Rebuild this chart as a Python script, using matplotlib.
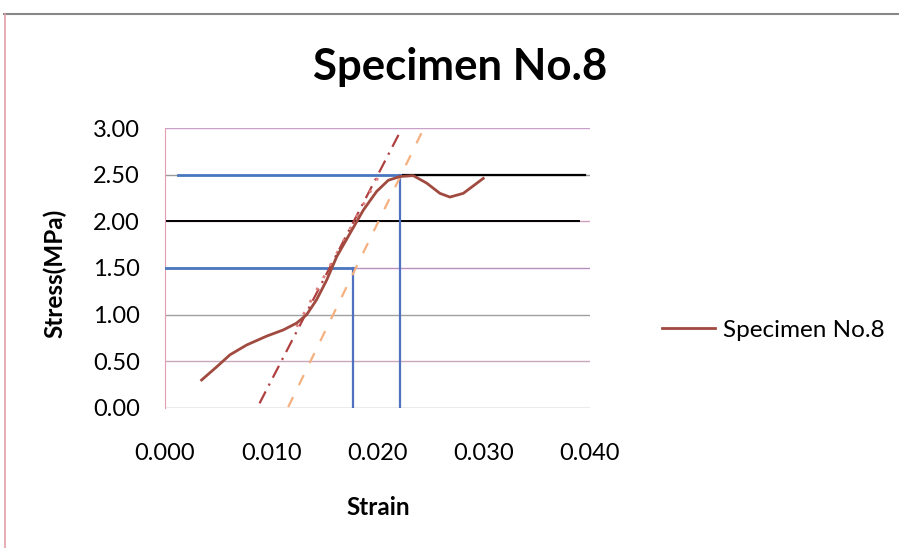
import matplotlib
matplotlib.use("Agg")
import matplotlib.pyplot as plt
from matplotlib.lines import Line2D

# stress-strain curve
strain = [0.00345, 0.00486, 0.00612, 0.00769, 0.00957, 0.01113, 0.0124, 0.01334,
          0.01427, 0.01522, 0.01616, 0.01741, 0.01867, 0.01992, 0.02102, 0.02212,
          0.02337, 0.02463, 0.02588, 0.02682, 0.02808, 0.02996]
stress = [0.30, 0.44, 0.57, 0.675, 0.77, 0.836, 0.91, 1.00,
          1.16, 1.37, 1.62, 1.87, 2.12, 2.32, 2.44, 2.48,
          2.49, 2.41, 2.30, 2.26, 2.30, 2.46]

# construction lines
peak_strain, peak_stress = 0.0221, 2.50
mid_strain, mid_stress = 0.0177, 1.50
tangent_x = [0.0089, 0.0220]
tangent_y = [0.05, 2.93]
offset_x = [0.0116, 0.0242]
offset_y = [0.01, 2.96]
secant_x = [0.0124, 0.0202]
secant_y = [0.87, 2.50]

x_ticks = [0.000, 0.010, 0.020, 0.030, 0.040]
y_ticks = [0.00, 0.50, 1.00, 1.50, 2.00, 2.50, 3.00]

plt.rcParams["font.family"] = ["Lato", "DejaVu Sans"]

fig = plt.figure(figsize=(8.99, 5.48), dpi=100)
ax = fig.add_axes([0.1835, 0.2555, 0.4727, 0.5109])

grid_colors = ["#9a9a9a", "#c8a8b8", "#a0a0a0", "#b890c0", "#d0a0c0", "#9a9a9a", "#c8a0c8"]
for y, c in zip(y_ticks, grid_colors):
    ax.axhline(y, color=c, lw=1.0, zorder=1)

# black reference lines
ax.plot([0.0, 0.0390], [2.0, 2.0], color="black", lw=1.4, zorder=2)
ax.plot([0.0224, 0.0395], [2.5, 2.5], color="black", lw=1.6, zorder=2)

# blue construction lines
blue = "#4a78c0"
ax.plot([0.0012, peak_strain], [peak_stress, peak_stress], color=blue, lw=2.0, zorder=3)
ax.plot([peak_strain, peak_strain], [0, peak_stress], color="#5070c0", lw=1.6, zorder=3)
ax.plot([0.0, mid_strain], [mid_stress, mid_stress], color=blue, lw=2.0, zorder=3)
ax.plot([mid_strain, mid_strain], [0, mid_stress], color="#5070c0", lw=1.6, zorder=3)

ax.plot(tangent_x, tangent_y, color="#b04040", lw=1.6, ls=(0, (6, 3, 1, 3)), zorder=4)
ax.plot(offset_x, offset_y, color="#f5b080", lw=1.6, ls=(0, (5, 6)), zorder=4)
ax.plot(secant_x, secant_y, color="#e08080", lw=2.0, ls=(0, (1, 4)), zorder=4)

ax.plot(strain, stress, color="#a04a40", lw=2.0, zorder=5, solid_joinstyle="round")

ax.set_xlim(0, 0.040)
ax.set_ylim(0, 3.0)
ax.set_xticks(x_ticks)
ax.set_yticks(y_ticks)
ax.set_xticklabels([f"{v:.3f}" for v in x_ticks], fontsize=17)
ax.set_yticklabels([f"{v:.2f}" for v in y_ticks], fontsize=17)
ax.tick_params(axis="x", length=0, pad=25)
ax.tick_params(axis="y", length=0, pad=18)

for side in ["top", "right", "bottom"]:
    ax.spines[side].set_visible(False)
ax.spines["left"].set_color("#e0a0b0")

ax.set_xlabel("Strain", fontsize=17.5, fontweight="bold", va="center")
ax.xaxis.set_label_coords(0.501, -0.354)
ax.set_ylabel("Stress(MPa)", fontsize=17.5, fontweight="bold", va="center")
ax.yaxis.set_label_coords(-0.259, 0.482)

fig.text(0.512, 0.854, "Specimen No.8", fontsize=31.5, fontweight="bold",
         ha="center", va="baseline")

fig.legend(handles=[Line2D([0], [0], color="#a04a40", lw=2.0)], labels=["Specimen No.8"],
           loc="center left", bbox_to_anchor=(0.7364, 0.3978), frameon=False,
           borderpad=0, borderaxespad=0, fontsize=17.5, handlelength=2.2,
           handletextpad=0.3)

# outer chart frame
fig.add_artist(Line2D([0.005, 1.0], [0.975, 0.975], color="#888888", lw=1.5))
fig.add_artist(Line2D([0.006, 0.006], [0.0, 0.975], color="#e0a0a8", lw=1.2))

fig.savefig("out.png", dpi=100)
